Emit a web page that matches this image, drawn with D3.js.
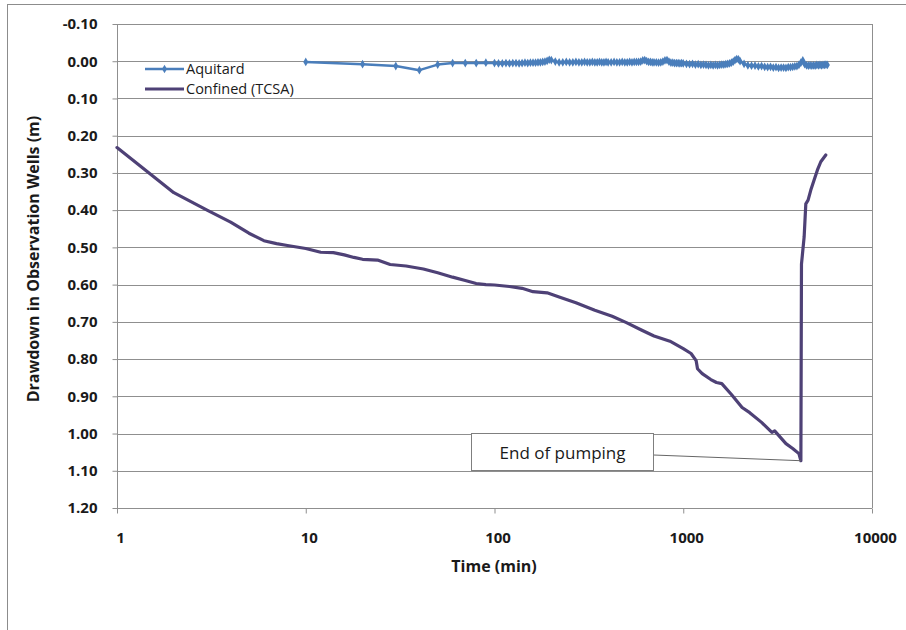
<!DOCTYPE html>
<html>
<head>
<meta charset="utf-8">
<script src="https://cdn.jsdelivr.net/npm/d3@7"></script>
<style>
  html, body { margin: 0; padding: 0; background: #fff; }
  svg { display: block; font-family: "Open Sans", "DejaVu Sans", sans-serif; }
</style>
</head>
<body>
<svg id="chart" width="906" height="630"></svg>
<script>
// Drawdown records (time in minutes, drawdown in metres)
const aquitardTime = [
  10, 20, 30, 40, 50, 60, 70, 80, 90,
  100, 105, 110, 115, 120, 125, 130, 135, 140, 145, 150, 155, 160, 165, 170, 175, 180, 185, 190, 195, 200,
  210, 220, 230, 240, 250, 260, 270, 280, 290, 300, 310, 320, 330, 340, 350, 360, 370, 380, 390, 400,
  415, 430, 445, 460, 475, 490, 505, 520, 535, 550, 565, 580, 595, 610, 625, 640, 655, 670, 685, 700,
  720, 740, 760, 780, 800, 820, 840, 860, 880, 900, 920, 940, 960, 980, 1000,
  1040, 1080, 1120, 1160, 1200, 1240, 1280, 1320, 1360, 1400, 1440, 1480, 1520, 1560, 1600, 1640, 1680, 1720, 1760, 1800, 1840, 1880, 1920, 1960, 2000,
  2100, 2200, 2300, 2400, 2500, 2600, 2700, 2800, 2900, 3000, 3100, 3200, 3300, 3400, 3500, 3600, 3700, 3800, 3900, 4000,
  4100, 4200, 4300, 4400, 4500, 4600, 4700, 4800, 4900, 5000, 5100, 5200, 5300, 5400, 5500, 5600, 5700, 5800];
const aquitardDrawdown = [
  0.002, 0.008, 0.013, 0.024, 0.009, 0.005, 0.005, 0.005, 0.004,
  0.005, 0.006, 0.006, 0.005, 0.006, 0.005, 0.005, 0.006, 0.005, 0.004, 0.005, 0.004, 0.004, 0.004, 0.003, 0.003, 0.002, 0.001, -0.001, -0.004, -0.003,
  0.001, 0.003, 0.003, 0.002, 0.003, 0.003, 0.002, 0.003, 0.003, 0.002, 0.003, 0.003, 0.002, 0.003, 0.003, 0.002, 0.003, 0.003, 0.002, 0.003,
  0.003, 0.002, 0.003, 0.003, 0.002, 0.003, 0.003, 0.002, 0.003, 0.002, 0.002, 0.002, 0.001, -0.002, -0.003, 0.000, 0.002, 0.002, 0.003, 0.003,
  0.003, 0.004, 0.003, 0.001, -0.002, -0.003, 0.001, 0.004, 0.004, 0.005, 0.005, 0.005, 0.006, 0.005, 0.006,
  0.007, 0.008, 0.007, 0.009, 0.008, 0.010, 0.009, 0.010, 0.011, 0.010, 0.011, 0.010, 0.011, 0.010, 0.009, 0.009, 0.008, 0.007, 0.006, 0.004, 0.001, -0.003, -0.006, -0.005, 0.000,
  0.007, 0.011, 0.012, 0.012, 0.014, 0.013, 0.015, 0.016, 0.015, 0.017, 0.016, 0.018, 0.017, 0.017, 0.018, 0.016, 0.016, 0.015, 0.014, 0.013,
  0.010, 0.004, -0.002, 0.008, 0.011, 0.012, 0.011, 0.012, 0.011, 0.012, 0.010, 0.011, 0.010, 0.011, 0.010, 0.010, 0.009, 0.010];

const confinedTime = [1, 2, 3, 4, 5, 6, 7, 8, 10, 12, 14, 16, 18, 20, 24, 28, 34, 42, 50, 60, 70, 80, 90, 100,
  120, 140, 160, 190, 220, 270, 340, 420, 500, 600, 700, 850, 1000, 1100, 1170, 1190, 1260, 1400, 1500, 1600,
  1800, 2050, 2250, 2600, 2950, 3050, 3500, 3800, 4100, 4200,
  4230, 4370, 4460, 4585, 4740, 4935, 5140, 5355, 5690];
const confinedDrawdown = [0.232, 0.353, 0.400, 0.432, 0.462, 0.482, 0.490, 0.495, 0.503, 0.513, 0.514, 0.520, 0.527, 0.532, 0.534, 0.546, 0.550, 0.558, 0.568, 0.580, 0.589, 0.597, 0.600, 0.601,
  0.605, 0.610, 0.619, 0.622, 0.633, 0.649, 0.669, 0.685, 0.702, 0.722, 0.738, 0.752, 0.772, 0.785, 0.804, 0.826, 0.839, 0.855, 0.863, 0.866,
  0.895, 0.930, 0.944, 0.970, 0.997, 0.993, 1.027, 1.040, 1.054, 1.073,
  0.545, 0.472, 0.383, 0.373, 0.346, 0.319, 0.292, 0.270, 0.252];

const yTicks = [-0.10, 0.00, 0.10, 0.20, 0.30, 0.40, 0.50, 0.60, 0.70, 0.80, 0.90, 1.00, 1.10, 1.20];
const xTicks = [1, 10, 100, 1000, 10000];
const seriesNames = ["Aquitard", "Confined (TCSA)"];
const noteText = "End of pumping";

const colors = { aquitard: "#4a7ebb", confined: "#4e4176", grid: "#8f8f8f", text: "#1a1a1a" };

const svg = d3.select("#chart");
const plot = { left: 117, right: 872, top: 24, bottom: 508 };

// outer chart frame
svg.append("rect")
  .attr("x", 7.5).attr("y", 4.5).attr("width", 1000).attr("height", 700)
  .attr("fill", "#fff").attr("stroke", "#8c8c8c");

const x = d3.scaleLog().domain([1, 10000]).range([plot.left, plot.right]);
const y = d3.scaleLinear().domain([-0.1, 1.2]).range([plot.top, plot.bottom]);

// horizontal gridlines
svg.append("g")
  .selectAll("line")
  .data(yTicks)
  .join("line")
  .attr("x1", plot.left).attr("x2", plot.right)
  .attr("y1", d => Math.round(y(d)) + 0.5).attr("y2", d => Math.round(y(d)) + 0.5)
  .attr("stroke", colors.grid).attr("stroke-width", 1);

// right edge of plot area
svg.append("line")
  .attr("x1", plot.right + 0.5).attr("x2", plot.right + 0.5)
  .attr("y1", plot.top).attr("y2", plot.bottom)
  .attr("stroke", colors.grid);

// y axis
const yAxis = svg.append("g")
  .attr("transform", `translate(${plot.left + 0.5},0)`)
  .call(d3.axisLeft(y).tickValues(yTicks).tickSize(5).tickPadding(15)
    .tickFormat(d => d.toFixed(2)));
yAxis.selectAll("text").attr("font-size", 15).attr("font-weight", "bold").attr("fill", colors.text)
  .attr("font-family", "'Open Sans', sans-serif");
yAxis.selectAll("line, path").attr("stroke", colors.grid);
yAxis.select(".domain").attr("d", `M0,${plot.top}V${plot.bottom}`);

// x axis
const xAxis = svg.append("g")
  .attr("transform", `translate(0,${Math.round(y(1.2)) + 0.5})`)
  .call(d3.axisBottom(x).tickValues(xTicks).tickSize(5).tickPadding(19)
    .tickFormat(d3.format("d")));
xAxis.selectAll("text").attr("font-size", 15).attr("font-weight", "bold").attr("fill", colors.text)
  .attr("font-family", "'Open Sans', sans-serif").attr("dx", 3);
xAxis.selectAll("line, path").attr("stroke", colors.grid);
xAxis.select(".domain").attr("d", `M${plot.left},0H${plot.right}`);

// axis titles
svg.append("text")
  .attr("x", 494).attr("y", 572)
  .attr("text-anchor", "middle")
  .attr("font-size", 16).attr("font-weight", "bold").attr("fill", colors.text)
  .text("Time (min)");

svg.append("text")
  .attr("transform", "translate(39,259) rotate(-90)")
  .attr("text-anchor", "middle")
  .attr("font-size", 16).attr("font-weight", "bold").attr("fill", colors.text)
  .text("Drawdown in Observation Wells (m)");

const line = d3.line().x(d => x(d[0])).y(d => y(d[1]));
const aquitard = aquitardTime.map((t, i) => [t, aquitardDrawdown[i]]);
const confined = confinedTime.map((t, i) => [t, confinedDrawdown[i]]);

// confined aquifer response
svg.append("path")
  .datum(confined)
  .attr("d", line)
  .attr("fill", "none")
  .attr("stroke", colors.confined)
  .attr("stroke-width", 3.2)
  .attr("stroke-linejoin", "round")
  .attr("stroke-linecap", "round");

// aquitard response with markers
svg.append("path")
  .datum(aquitard)
  .attr("d", line)
  .attr("fill", "none")
  .attr("stroke", colors.aquitard)
  .attr("stroke-width", 2.5)
  .attr("stroke-linejoin", "round");

const diamond = d3.symbol().type(d3.symbolDiamond).size(22);
svg.append("g")
  .selectAll("path")
  .data(aquitard)
  .join("path")
  .attr("transform", d => `translate(${x(d[0])},${y(d[1])})`)
  .attr("d", diamond)
  .attr("fill", colors.aquitard);

// legend
const legend = svg.append("g").attr("transform", "translate(145,0)");
const legendRows = [
  { name: seriesNames[0], color: colors.aquitard, y: 69, marker: true, width: 2.5 },
  { name: seriesNames[1], color: colors.confined, y: 89, marker: false, width: 3 }
];
legendRows.forEach(r => {
  legend.append("line")
    .attr("x1", 0).attr("x2", 39).attr("y1", r.y).attr("y2", r.y)
    .attr("stroke", r.color).attr("stroke-width", r.width);
  if (r.marker) {
    legend.append("path").attr("transform", `translate(19.5,${r.y})`).attr("d", diamond).attr("fill", r.color);
  }
  legend.append("text")
    .attr("x", 41).attr("y", r.y + 5)
    .attr("font-size", 14.5).attr("fill", colors.text)
    .text(r.name);
});

// annotation of the end of pumping
const endIdx = d3.maxIndex(confinedDrawdown);
const endPt = [x(confinedTime[endIdx]), y(confinedDrawdown[endIdx])];
const box = { x: 471.5, y: 433.5, w: 182, h: 37 };
svg.append("line")
  .attr("x1", box.x + box.w).attr("y1", 455)
  .attr("x2", endPt[0]).attr("y2", endPt[1])
  .attr("stroke", "#666").attr("stroke-width", 1);
svg.append("rect")
  .attr("x", box.x).attr("y", box.y).attr("width", box.w).attr("height", box.h)
  .attr("fill", "#fff").attr("stroke", "#7f7f7f");
svg.append("text")
  .attr("x", box.x + box.w / 2).attr("y", box.y + 25)
  .attr("text-anchor", "middle")
  .attr("font-size", 17).attr("fill", colors.text)
  .text(noteText);
</script>
</body>
</html>
